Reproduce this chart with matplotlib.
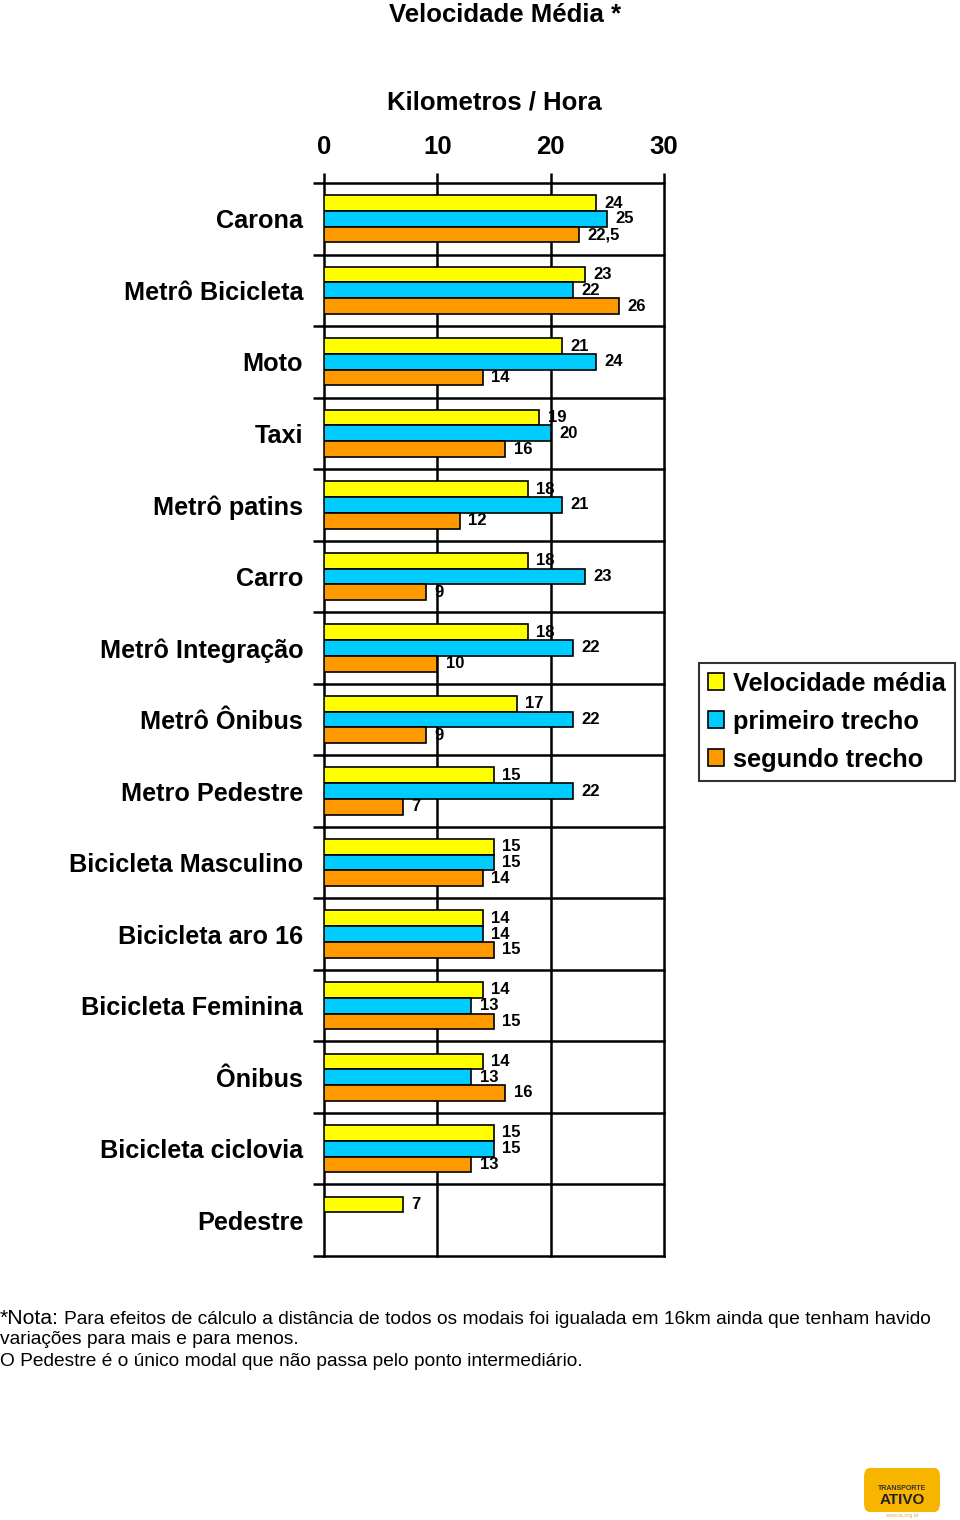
import numpy as np
import matplotlib
matplotlib.use("Agg")
import matplotlib.pyplot as plt
from matplotlib.patches import FancyBboxPatch, Patch

plt.rcParams['font.family'] = ['Liberation Sans', 'DejaVu Sans']

categories = ["Carona", "Metrô Bicicleta", "Moto", "Taxi", "Metrô patins", "Carro",
              "Metrô Integração", "Metrô Ônibus", "Metro Pedestre", "Bicicleta Masculino",
              "Bicicleta aro 16", "Bicicleta Feminina", "Ônibus", "Bicicleta ciclovia", "Pedestre"]
velocidade_media = [24, 23, 21, 19, 18, 18, 18, 17, 15, 15, 14, 14, 14, 15, 7]
primeiro_trecho = [25, 22, 24, 20, 21, 23, 22, 22, 22, 15, 14, 13, 13, 15, None]
segundo_trecho = [22.5, 26, 14, 16, 12, 9, 10, 9, 7, 14, 15, 15, 16, 13, None]
series_names = ["Velocidade média", "primeiro trecho", "segundo trecho"]
colors = ["#FFFF00", "#00CCFF", "#FF9900"]
x_ticks = [0, 10, 20, 30]

W, H = 960, 1520
fig = plt.figure(figsize=(W / 100, H / 100), dpi=100)
ax = fig.add_axes([324 / W, 1 - 1256 / H, (664 - 324) / W, (1256 - 183) / H])

bh = 0.22
offsets = [-bh, 0, bh]
all_series = [velocidade_media, primeiro_trecho, segundo_trecho]

def fmt(v):
    if float(v).is_integer():
        return str(int(v))
    return str(v).replace('.', ',')

for s, (vals, off, col) in enumerate(zip(all_series, offsets, colors)):
    ys = [i + off for i, v in enumerate(vals) if v is not None]
    ws = [v for v in vals if v is not None]
    bars = ax.barh(ys, ws, height=bh, color=col, edgecolor='black', linewidth=1.2, zorder=3)
    ax.bar_label(bars, labels=[fmt(v) for v in ws], padding=6, fontsize=12,
                 fontweight='bold', zorder=4)

n = len(categories)
ax.set_xlim(0, 30)
ax.set_ylim(n - 0.5, -0.5)

# grid
for b in np.arange(-0.5, n, 1.0):
    ax.axhline(b, color='black', lw=1.8, zorder=2, clip_on=False)
for x in x_ticks:
    ax.axvline(x, color='black', lw=1.8, zorder=2, clip_on=False)

for sp in ax.spines.values():
    sp.set_visible(False)

ax.xaxis.tick_top()
ax.set_xticks(x_ticks)
ax.set_xticklabels([str(t) for t in x_ticks], fontsize=18.5, fontweight='bold')
ax.tick_params(axis='x', which='major', length=7, width=1.8, pad=10, direction='out')

ax.set_yticks(range(n))
ax.set_yticklabels(categories, fontsize=18.2, fontweight='bold')
ax.tick_params(axis='y', which='major', length=0, pad=15)
ax.set_yticks(np.arange(-0.5, n, 1.0), minor=True)
ax.tick_params(axis='y', which='minor', length=8, width=1.8, direction='out')

fig.text(505 / W, 1 - 15 / H, "Velocidade Média *", ha='center', va='center',
         fontsize=18.5, fontweight='bold')
fig.text(494 / W, 1 - 102 / H, "Kilometros / Hora", ha='center', va='center',
         fontsize=18.5, fontweight='bold')

handles = [Patch(facecolor=c, edgecolor='black', linewidth=1.2) for c in colors]
leg = fig.legend(handles, series_names, loc='upper left',
                 bbox_to_anchor=(699 / W, 1 - 663 / H),
                 prop={'weight': 'bold', 'size': 18.3},
                 frameon=True, fancybox=False, edgecolor='black',
                 handlelength=0.65, handleheight=0.65, handletextpad=0.35,
                 labelspacing=0.55, borderpad=0.35, borderaxespad=0)
leg.get_frame().set_linewidth(1.5)

# note
t1 = fig.text(0, 1 - 1318 / H, "*Nota:", ha='left', va='center', fontsize=15.2)
fig.canvas.draw()
r = fig.canvas.get_renderer()
bb = t1.get_window_extent(r)
fig.text(bb.x1 / W + 5 / W, 1 - 1319 / H,
         "Para efeitos de cálculo a distância de todos os modais foi igualada em 16km ainda que tenham havido",
         ha='left', va='center', fontsize=13.8)
fig.text(0, 1 - 1340 / H, "variações para mais e para menos.", ha='left', va='center', fontsize=13.8)
fig.text(0, 1 - 1362 / H, "O Pedestre é o único modal que não passa pelo ponto intermediário.",
         ha='left', va='center', fontsize=13.8)

# logo
logo = FancyBboxPatch((864 / W, 1 - 1512 / H), 76 / W, 44 / H,
                      boxstyle="round,pad=0,rounding_size=0.006",
                      transform=fig.transFigure, facecolor='#F7B500', edgecolor='none')
fig.patches.append(logo)
fig.text(902 / W, 1 - 1488 / H, "TRANSPORTE", ha='center', va='center', fontsize=5,
         fontweight='bold', color='#333333')
fig.text(902 / W, 1 - 1500 / H, "ATIVO", ha='center', va='center', fontsize=11,
         fontweight='bold', color='#222222')
fig.text(902 / W, 1 - 1516 / H, "www.ta.org.br", ha='center', va='center', fontsize=4,
         color='#E0B040')

fig.savefig("out.png", dpi=100)
